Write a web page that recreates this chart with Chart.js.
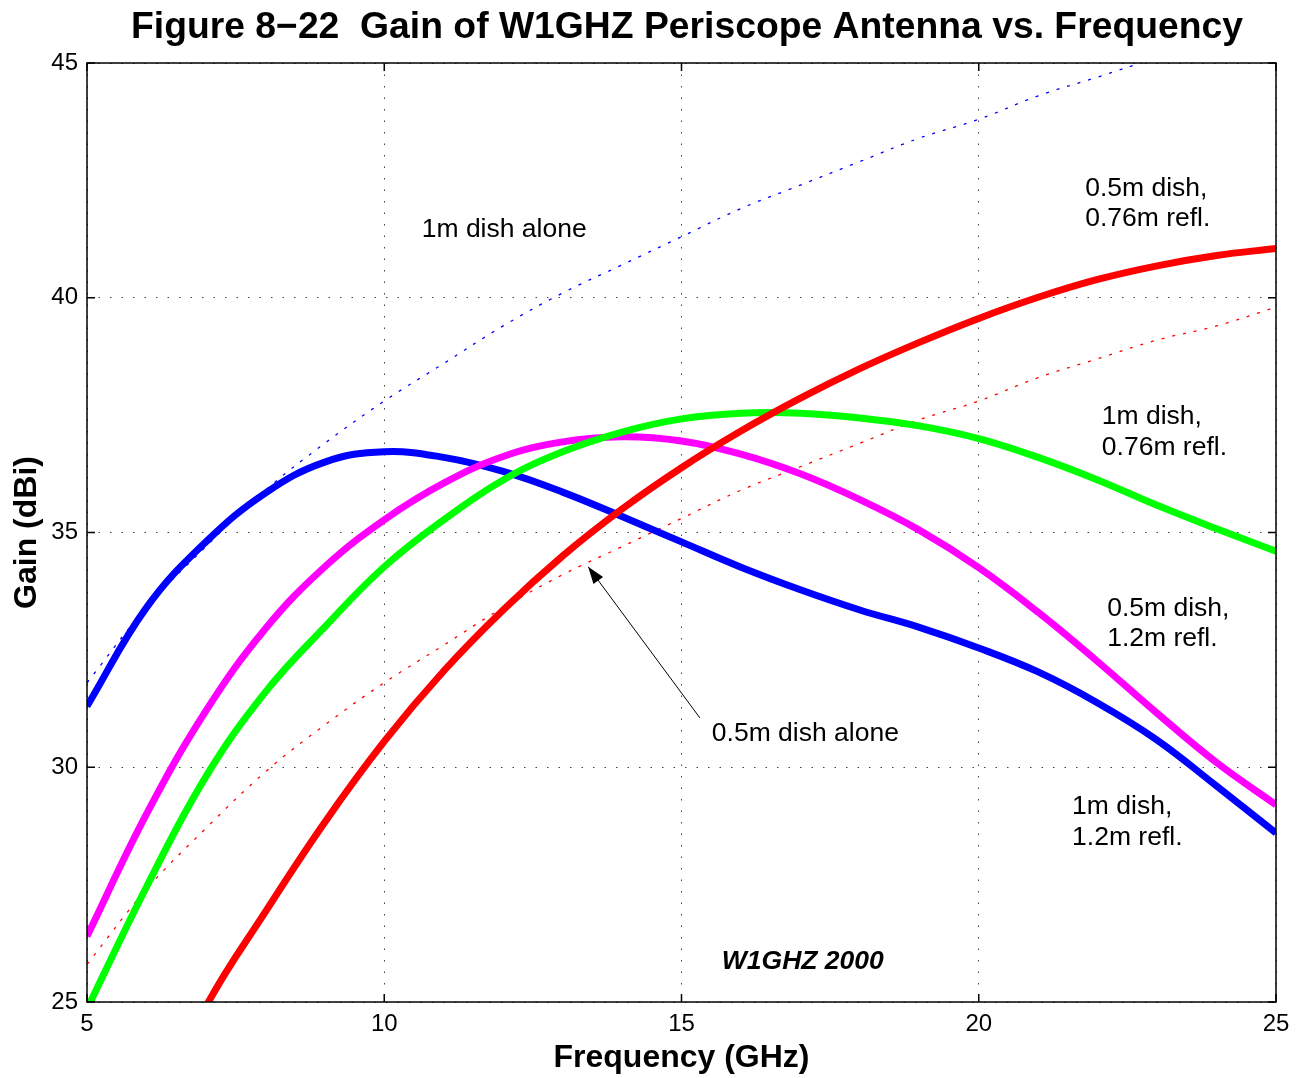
<!DOCTYPE html>
<html>
<head>
<meta charset="utf-8">
<script src="https://cdn.jsdelivr.net/npm/chart.js@4/dist/chart.umd.min.js"></script>
<style>
  body { margin: 0; background: #fff; }
  #wrap { width: 1305px; height: 1078px; position: relative; }
</style>
</head>
<body>
<div id="wrap"><canvas id="gainChart"></canvas></div>
<script>
// frequency in GHz
const freqs = [5, 6, 7, 8, 9, 10, 11, 12, 13, 14, 15, 16, 17, 18, 19, 20, 21, 22, 23, 24, 25];

// gain in dBi
const dish1mAlone = [31.8, 33.4, 34.7, 35.9, 36.9, 37.8, 38.6, 39.4, 40.1, 40.7, 41.3, 41.9, 42.4, 42.9, 43.4, 43.8, 44.3, 44.7, 45.1, 45.4, 45.8];
const dish05mAlone = [25.8, 27.4, 28.7, 29.9, 30.9, 31.8, 32.6, 33.4, 34.1, 34.7, 35.3, 35.9, 36.4, 36.9, 37.4, 37.8, 38.3, 38.7, 39.1, 39.4, 39.8];
const dish1mRefl12 = [31.3, 33.4, 34.8, 35.84, 36.5, 36.72, 36.6, 36.3, 35.86, 35.34, 34.8, 34.26, 33.78, 33.35, 32.98, 32.54, 32.03, 31.37, 30.58, 29.6, 28.6];
const dish05mRefl12 = [26.4, 29.0, 31.2, 32.95, 34.27, 35.27, 36.05, 36.62, 36.93, 37.04, 36.95, 36.67, 36.25, 35.7, 35.05, 34.25, 33.3, 32.25, 31.15, 30.1, 29.2];
const dish1mRefl076 = [24.85, 27.45, 29.8, 31.6, 32.99, 34.27, 35.27, 36.12, 36.72, 37.14, 37.42, 37.54, 37.54, 37.44, 37.27, 37.0, 36.6, 36.12, 35.58, 35.08, 34.6];
const dish05mRefl076 = [18.6, 22.2, 24.9, 26.92, 28.83, 30.55, 32.05, 33.35, 34.5, 35.5, 36.38, 37.16, 37.86, 38.49, 39.05, 39.56, 40.01, 40.39, 40.68, 40.9, 41.05];

const xTicks = [5, 10, 15, 20, 25];
const yTicks = [25, 30, 35, 40, 45];

const FONT = "'Liberation Sans', Arial, Helvetica, sans-serif";

// text notes placed in data coordinates (GHz, dBi)
const notes = [
  { text: "1m dish alone", x: 10.63, y: 41.46 },
  { text: "0.5m dish,", x: 21.79, y: 42.32 },
  { text: "0.76m refl.", x: 21.79, y: 41.68 },
  { text: "1m dish,", x: 22.07, y: 37.46 },
  { text: "0.76m refl.", x: 22.07, y: 36.8 },
  { text: "0.5m dish,", x: 22.16, y: 33.37 },
  { text: "1.2m refl.", x: 22.16, y: 32.73 },
  { text: "1m dish,", x: 21.57, y: 29.17 },
  { text: "1.2m refl.", x: 21.57, y: 28.51 },
  { text: "0.5m dish alone", x: 15.51, y: 30.71 }
];
const arrowFrom = { x: 15.31, y: 31.05 };
const arrowTo = { x: 13.43, y: 34.27 };

const toPoints = (vals) => vals.map((v, i) => ({ x: freqs[i], y: v }));

const solid = (label, vals, color) => ({
  label: label,
  data: toPoints(vals),
  borderColor: color,
  borderWidth: 7,
  pointRadius: 0,
  tension: 0.4,
  fill: false
});
const dotted = (label, vals, color) => ({
  label: label,
  data: toPoints(vals),
  borderColor: color,
  borderWidth: 1.3,
  borderDash: [3, 8],
  pointRadius: 0,
  tension: 0.4,
  fill: false
});

// frame with inward ticks, notes, arrow and titles
const decorations = {
  id: "decorations",
  afterDraw(chart) {
    const { ctx, chartArea: a, scales } = chart;
    const xs = scales.x, ys = scales.y;
    ctx.save();

    ctx.strokeStyle = "#000";
    ctx.lineWidth = 1.5;
    ctx.strokeRect(a.left, a.top, a.right - a.left, a.bottom - a.top);
    const tl = 8;
    ctx.beginPath();
    xTicks.forEach((t) => {
      const px = xs.getPixelForValue(t);
      ctx.moveTo(px, a.bottom); ctx.lineTo(px, a.bottom - tl);
      ctx.moveTo(px, a.top); ctx.lineTo(px, a.top + tl);
    });
    yTicks.forEach((t) => {
      const py = ys.getPixelForValue(t);
      ctx.moveTo(a.left, py); ctx.lineTo(a.left + tl, py);
      ctx.moveTo(a.right, py); ctx.lineTo(a.right - tl, py);
    });
    ctx.stroke();

    ctx.fillStyle = "#000";
    ctx.font = "26.5px " + FONT;
    ctx.textAlign = "left";
    ctx.textBaseline = "middle";
    notes.forEach((n) => {
      ctx.fillText(n.text, xs.getPixelForValue(n.x), ys.getPixelForValue(n.y));
    });

    ctx.font = "italic bold 26.5px " + FONT;
    ctx.textAlign = "center";
    ctx.fillText("W1GHZ 2000", xs.getPixelForValue(17.04), ys.getPixelForValue(25.85));

    // arrow
    const x1 = xs.getPixelForValue(arrowFrom.x), y1 = ys.getPixelForValue(arrowFrom.y);
    const x2 = xs.getPixelForValue(arrowTo.x), y2 = ys.getPixelForValue(arrowTo.y);
    const ang = Math.atan2(y2 - y1, x2 - x1);
    ctx.lineWidth = 1;
    ctx.beginPath();
    ctx.moveTo(x1, y1); ctx.lineTo(x2, y2);
    ctx.stroke();
    ctx.beginPath();
    ctx.moveTo(x2, y2);
    ctx.lineTo(x2 - 17 * Math.cos(ang) + 6 * Math.sin(ang), y2 - 17 * Math.sin(ang) - 6 * Math.cos(ang));
    ctx.lineTo(x2 - 17 * Math.cos(ang) - 6 * Math.sin(ang), y2 - 17 * Math.sin(ang) + 6 * Math.cos(ang));
    ctx.closePath();
    ctx.fill();

    // titles
    ctx.font = "bold 37.3px " + FONT;
    ctx.textAlign = "center";
    ctx.fillText("Figure 8\u221222  Gain of W1GHZ Periscope Antenna vs. Frequency", 687, 28);
    ctx.font = "bold 32px " + FONT;
    ctx.fillText("Frequency (GHz)", (a.left + a.right) / 2, 1058);
    ctx.translate(27, (a.top + a.bottom) / 2);
    ctx.rotate(-Math.PI / 2);
    ctx.fillText("Gain (dBi)", 0, 0);
    ctx.restore();
  }
};

const ctx = document.getElementById("gainChart").getContext("2d");
new Chart(ctx, {
  type: "line",
  data: {
    datasets: [
      solid("0.5m dish, 0.76m refl.", dish05mRefl076, "#ff0000"),
      solid("1m dish, 0.76m refl.", dish1mRefl076, "#00ff00"),
      solid("0.5m dish, 1.2m refl.", dish05mRefl12, "#ff00ff"),
      solid("1m dish, 1.2m refl.", dish1mRefl12, "#0000ff"),
      dotted("0.5m dish alone", dish05mAlone, "#ff0000"),
      dotted("1m dish alone", dish1mAlone, "#0000ff")
    ]
  },
  options: {
    responsive: true,
    maintainAspectRatio: false,
    animation: false,
    layout: { padding: { top: 63, right: 29, left: 0, bottom: 0 } },
    plugins: {
      legend: { display: false },
      tooltip: { enabled: false }
    },
    scales: {
      x: {
        type: "linear",
        min: 5,
        max: 25,
        afterFit: (s) => { s.height = 76; },
        afterBuildTicks: (s) => { s.ticks = xTicks.map((v) => ({ value: v })); },
        ticks: { color: "#000", font: { family: FONT, size: 24 }, padding: 8, maxRotation: 0 },
        grid: { color: "#444", lineWidth: 1, drawTicks: false },
        border: { display: false, dash: [1.5, 10] }
      },
      y: {
        min: 25,
        max: 45,
        afterFit: (s) => { s.width = 87; },
        afterBuildTicks: (s) => { s.ticks = yTicks.map((v) => ({ value: v })); },
        ticks: { color: "#000", font: { family: FONT, size: 24 }, padding: 9 },
        grid: { color: "#444", lineWidth: 1, drawTicks: false },
        border: { display: false, dash: [1.5, 10] }
      }
    }
  },
  plugins: [decorations]
});
</script>
</body>
</html>
